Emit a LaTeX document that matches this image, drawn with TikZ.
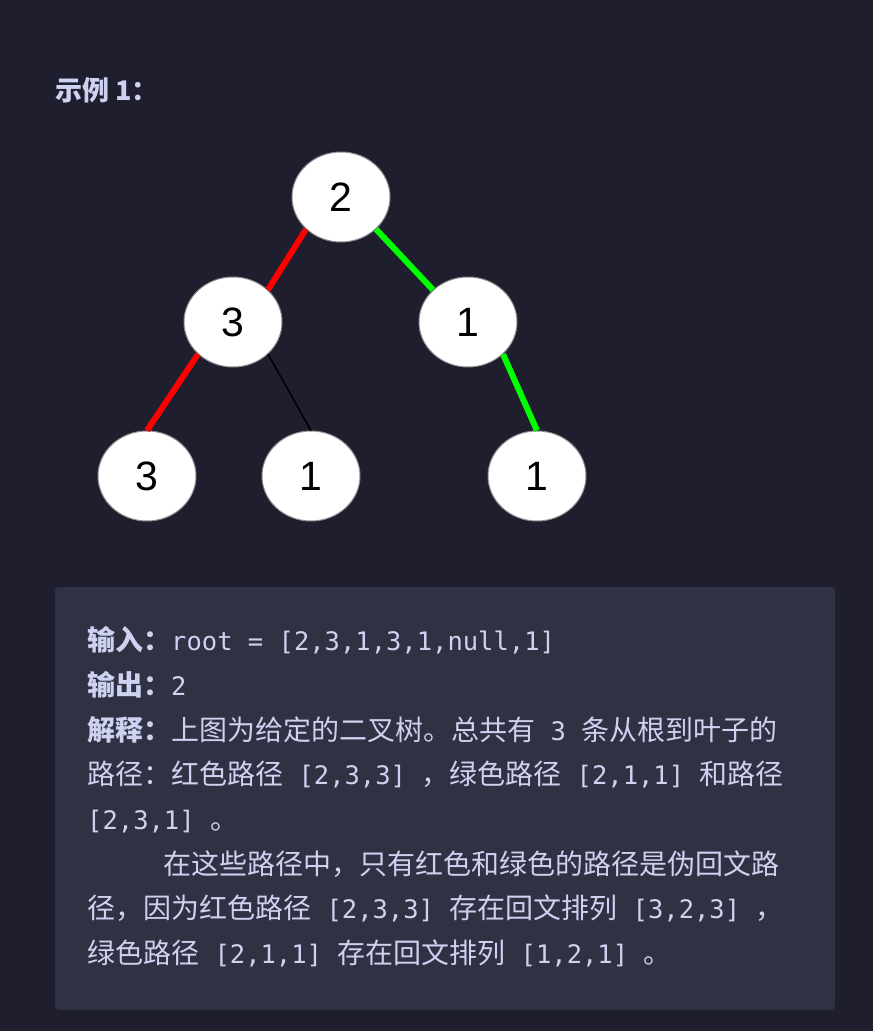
\documentclass[tikz,border=0pt]{standalone}
\usepackage{fontspec}
\setmainfont{Noto Sans CJK SC}
\newfontfamily\numfont{Liberation Sans}
\newfontfamily\cd{DejaVu Sans Mono}
\usetikzlibrary{shapes.geometric}
\definecolor{bgc}{HTML}{1E1E2E}
\definecolor{boxc}{HTML}{303142}
\definecolor{txtc}{HTML}{CDD2F0}
\definecolor{redc}{HTML}{FF0000}
\definecolor{grnc}{HTML}{00FF00}
\tikzset{
  vtx/.style={ellipse, fill=white, draw=black!45, line width=1pt, minimum width=98pt,
    minimum height=90pt, inner sep=0pt, font=\numfont\fontsize{41}{41}\selectfont},
  redge/.style={redc, line width=6pt},
  gedge/.style={grnc, line width=6pt},
  bedge/.style={black, line width=1.6pt},
  line/.style={anchor=base west, text=txtc, inner sep=0pt, font=\fontsize{28}{28}\selectfont},
}
\newcommand{\cs}[1]{{\cd\fontsize{25.5}{25.5}\selectfont #1}}

\begin{document}
\begin{tikzpicture}[x=1pt, y=-1pt]
  \fill[bgc] (0,0) rectangle (873,1031);
  \node[line, font=\fontsize{27}{27}\selectfont\bfseries] (title) at (55,100) {示例 1：};
  % tree
  \node[vtx] (root) at (341,197) {2};
  \node[vtx] (m3) at (233,322) {3};
  \node[vtx] (m1) at (468,322) {1};
  \node[vtx] (l3) at (147,476) {3};
  \node[vtx] (l1) at (311,476) {1};
  \node[vtx] (r1) at (537,476) {1};
  \draw[redge] (root.south west) -- (m3.north east);
  \draw[gedge] (root.south east) -- (m1.north west);
  \draw[redge] (m3.south west) -- (l3.north);
  \draw[bedge] (m3.south east) -- (l1.north);
  \draw[gedge] (m1.south east) -- (r1.north);
  % explanation box
  \fill[boxc, rounded corners=4pt] (55,587) rectangle (835,1010);
  \node[line] (ln1) at (87,650.5) {\textbf{输入：}\cs{root = [2,3,1,3,1,null,1]}};
  \node[line] (ln2) at (87,695) {\textbf{输出：}\cs{2}};
  \node[line] (ln3) at (87,740) {\textbf{解释：}上图为给定的二叉树。总共有\cs{ 3 }条从根到叶子的};
  \node[line] (ln4) at (87,784.5) {路径：红色路径\cs{ [2,3,3] }，绿色路径\cs{ [2,1,1] }和路径};
  \node[line] (ln5) at (87,829) {\cs{[2,3,1] }。};
  \node[line] (ln6) at (163,874) {在这些路径中，只有红色和绿色的路径是伪回文路};
  \node[line] (ln7) at (87,918.5) {径，因为红色路径\cs{ [2,3,3] }存在回文排列\cs{ [3,2,3] }，};
  \node[line] (ln8) at (87,963.5) {绿色路径\cs{ [2,1,1] }存在回文排列\cs{ [1,2,1] }。};
\end{tikzpicture}
\end{document}
